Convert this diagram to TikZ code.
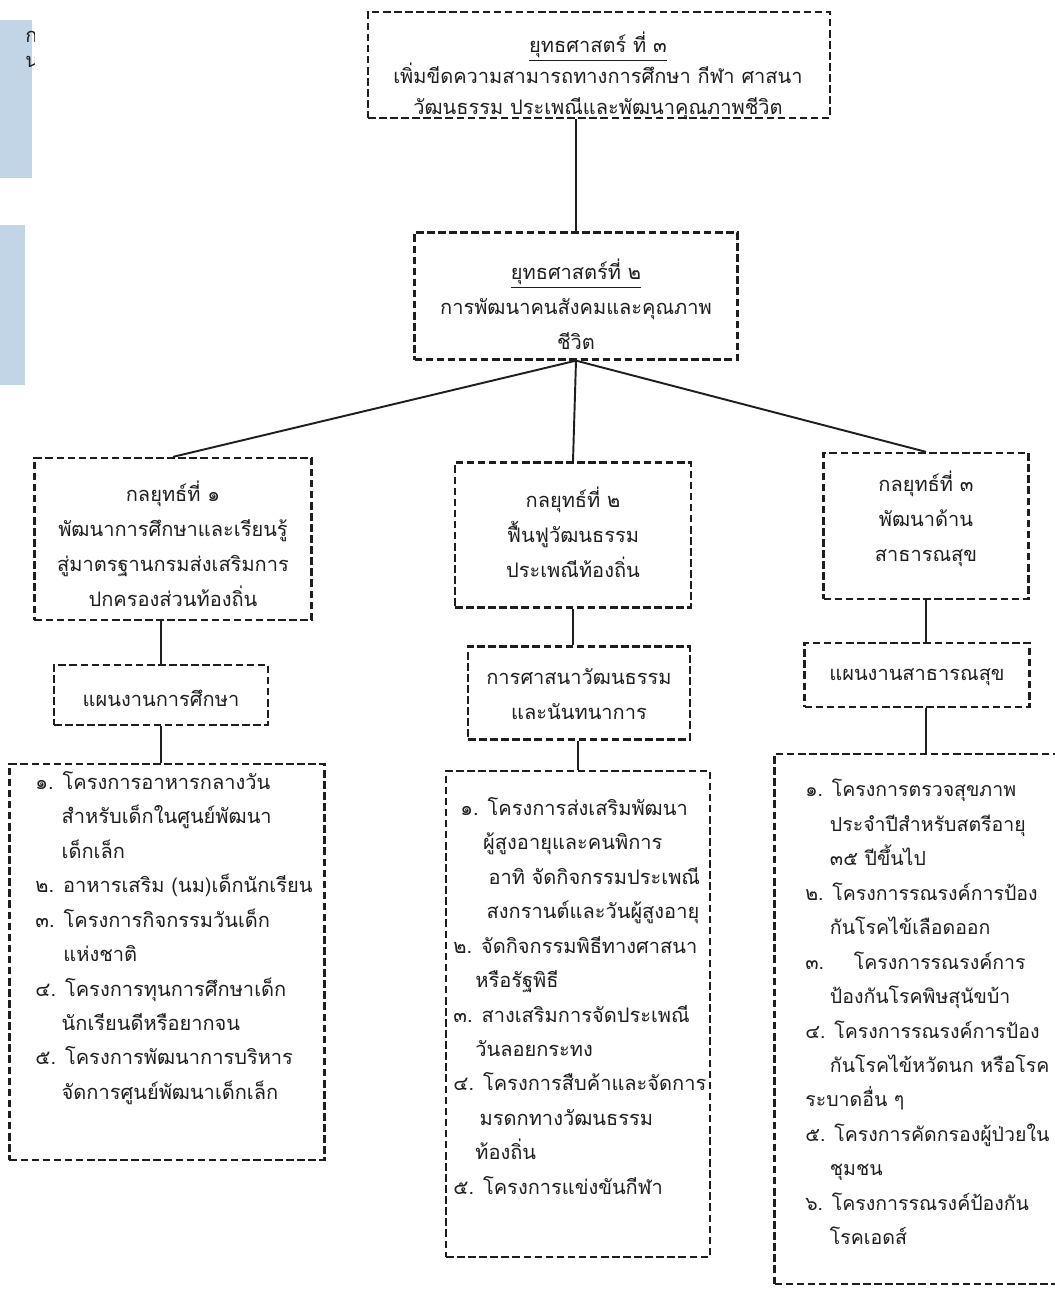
\documentclass[tikz,border=0pt]{standalone}
\usepackage{fontspec}
\newfontfamily\thaifont[Script=Thai]{Loma}
\definecolor{sidebar}{RGB}{194,213,231}
\definecolor{ink}{RGB}{30,30,30}
\tikzset{
  box/.style={draw=ink, line width=1.3pt, dash pattern=on 4.3pt off 2pt, inner sep=0pt},
  link/.style={draw=ink, line width=1.1pt},
  thai/.style={font=\thaifont\fontsize{11.4}{19.9}\selectfont, text=ink, align=center, inner sep=0pt},
  items/.style={font=\thaifont\fontsize{11.4}{19.6}\selectfont, text=ink, align=left, anchor=north west, inner sep=0pt},
}

\begin{document}
\begin{tikzpicture}[x=0.2mm,y=-0.2mm]
		%%%%% START %%%%%
		\useasboundingbox (0,0) rectangle (1055,1290);
		\clip (0,0) rectangle (1055,1290);
		
		% strips of the facing page
		\fill[sidebar] (0,20) rectangle (32,178);
		\fill[sidebar] (0,225) rectangle (25,385);
		\begin{scope}
			\clip (0,20) rectangle (34,178);
			\node[thai, anchor=west] (edgeA) at (25,37) {ก};
			\node[thai, anchor=west] (edgeB) at (25,62) {น};
		\end{scope}
		
		% strategies
		\node[box, minimum width=92.4mm, minimum height=21.2mm] (strat3) at (599,65) {};
		\node[thai, font=\thaifont\fontsize{11.4}{17.6}\selectfont] (strat3txt) at (598,76)
			{\underline{ยุทธศาสตร์ ที่ ๓}\\ เพิ่มขีดความสามารถทางการศึกษา กีฬา ศาสนา\\ วัฒนธรรม ประเพณีและพัฒนาคุณภาพชีวิต};
		\node[box, minimum width=64.6mm, minimum height=25.4mm] (strat2) at (576,296) {};
		\node[thai] (strat2txt) at (576,304)
			{\underline{ยุทธศาสตร์ที่ ๒}\\ การพัฒนาคนสังคมและคุณภาพ\\ ชีวิต};
		
		% tactics
		\node[box, minimum width=55.4mm, minimum height=32.4mm] (tac1) at (173,539) {};
		\node[thai] (tac1txt) at (173,544)
			{กลยุทธ์ที่ ๑\\ พัฒนาการศึกษาและเรียนรู้\\ สู่มาตรฐานกรมส่งเสริมการ\\ ปกครองส่วนท้องถิ่น};
		\node[box, minimum width=47.2mm, minimum height=29mm] (tac2) at (573,535) {};
		\node[thai] (tac2txt) at (573,532)
			{กลยุทธ์ที่ ๒\\ ฟื้นฟูวัฒนธรรม\\ ประเพณีท้องถิ่น};
		\node[box, minimum width=41mm, minimum height=29.2mm] (tac3) at (926,526) {};
		\node[thai] (tac3txt) at (926,519)
			{กลยุทธ์ที่ ๓\\ พัฒนาด้าน\\ สาธารณสุข};
		
		% plans
		\node[box, minimum width=42.8mm, minimum height=12mm] (plan1) at (161,695) {};
		\node[thai] (plan1txt) at (161,698) {แผนงานการศึกษา};
		\node[box, minimum width=44.4mm, minimum height=18.6mm] (plan2) at (579,693) {};
		\node[thai] (plan2txt) at (579,694) {การศาสนาวัฒนธรรม\\ และนันทนาการ};
		\node[box, minimum width=45mm, minimum height=12.8mm] (plan3) at (917,675) {};
		\node[thai] (plan3txt) at (917,677) {แผนงานสาธารณสุข};
		
		% project lists
		\node[box, minimum width=63mm, minimum height=79.2mm] (proj1) at (167,962) {};
		\node[box, minimum width=52.8mm, minimum height=97.2mm] (proj2) at (578,1014) {};
		\node[box, minimum width=58.6mm, minimum height=106mm] (proj3) at (921,1019) {};
		
		\node[items] (list1) at (35,771) {%
			๑. โครงการอาหารกลางวัน\\
			\hspace*{15pt}สำหรับเด็กในศูนย์พัฒนา\\
			\hspace*{15pt}เด็กเล็ก\\
			๒. อาหารเสริม (นม)เด็กนักเรียน\\
			๓. โครงการกิจกรรมวันเด็ก\\
			\hspace*{16pt}แห่งชาติ\\
			๔. โครงการทุนการศึกษาเด็ก\\
			\hspace*{15pt}นักเรียนดีหรือยากจน\\
			๕. โครงการพัฒนาการบริหาร\\
			\hspace*{15pt}จัดการศูนย์พัฒนาเด็กเล็ก};
		\node[items] (list2) at (453,797) {%
			\hspace*{4pt}๑. โครงการส่งเสริมพัฒนา\\
			\hspace*{17pt}ผู้สูงอายุและคนพิการ\\
			\hspace*{20pt}อาทิ จัดกิจกรรมประเพณี\\
			\hspace*{19pt}สงกรานต์และวันผู้สูงอายุ\\
			๒. จัดกิจกรรมพิธีทางศาสนา\\
			\hspace*{12.5pt}หรือรัฐพิธี\\
			๓. สางเสริมการจัดประเพณี\\
			\hspace*{12.5pt}วันลอยกระทง\\
			๔. โครงการสืบค้าและจัดการ\\
			\hspace*{15pt}มรดกทางวัฒนธรรม\\
			\hspace*{12.5pt}ท้องถิ่น\\
			๕. โครงการแข่งขันกีฬา};
		\node[items, font=\thaifont\fontsize{11.1}{19.6}\selectfont] (list3) at (805,779) {%
			๑. โครงการตรวจสุขภาพ\\
			\hspace*{14pt}ประจำปีสำหรับสตรีอายุ\\
			\hspace*{14pt}๓๕ ปีขึ้นไป\\
			๒. โครงการรณรงค์การป้อง\\
			\hspace*{14pt}กันโรคไข้เลือดออก\\
			๓.\hspace{12pt} โครงการรณรงค์การ\\
			\hspace*{14pt}ป้องกันโรคพิษสุนัขบ้า\\
			๔. โครงการรณรงค์การป้อง\\
			\hspace*{14pt}กันโรคไข้หวัดนก หรือโรค\\
			ระบาดอื่น ๆ\\
			๕. โครงการคัดกรองผู้ป่วยใน\\
			\hspace*{14pt}ชุมชน\\
			๖. โครงการรณรงค์ป้องกัน\\
			\hspace*{14pt}โรคเอดส์};
		
		% connectors
		\draw[link] (strat2.north) -- (strat2.north |- strat3.south);
		\draw[link] (strat2.south) -- (tac1.north);
		\draw[link] (strat2.south) -- (tac2.north);
		\draw[link] (strat2.south) -- (tac3.north);
		
		\draw[link] (plan1.north) -- (plan1.north |- tac1.south);
		\draw[link] (plan1.south) -- (plan1.south |- proj1.north);
		\draw[link] (tac2.south) -- (tac2.south |- plan2.north);
		\draw[link] (proj2.north) -- (proj2.north |- plan2.south);
		\draw[link] (tac3.south) -- (tac3.south |- plan3.north);
		\draw[link] (tac3.south |- plan3.south) -- (tac3.south |- proj3.north);
		
		%%%%% END %%%%%
\end{tikzpicture}
\end{document}
